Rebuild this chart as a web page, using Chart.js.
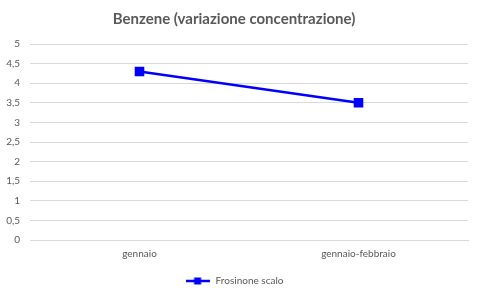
<!DOCTYPE html>
<html>
<head>
<meta charset="utf-8">
<script src="https://cdn.jsdelivr.net/npm/chart.js@4"></script>
<style>
  html, body { margin: 0; padding: 0; background: #fff; }
  #wrap { width: 480px; height: 296px; }
</style>
</head>
<body>
<div id="wrap"><canvas id="benzeneChart"></canvas></div>
<script>
// Data
const categories = ['gennaio', 'gennaio-febbraio'];
const seriesName = 'Frosinone scalo';
const seriesValues = [4.3, 3.5];
const yTicks = [0, 0.5, 1, 1.5, 2, 2.5, 3, 3.5, 4, 4.5, 5];

// legend swatch: line with a square marker in the middle
function legendSwatch() {
    const c = document.createElement('canvas');
    c.width = 24; c.height = 8;
    const g = c.getContext('2d');
    g.strokeStyle = '#0000ff';
    g.lineWidth = 2.5;
    g.beginPath(); g.moveTo(0, 4); g.lineTo(24, 4); g.stroke();
    g.fillStyle = '#0000ff';
    g.fillRect(8.5, 0.5, 7, 7);
    return c;
}

document.addEventListener('DOMContentLoaded', function() {
    const ctx = document.getElementById('benzeneChart');
    const swatch = legendSwatch();
    const fam = 'Lato, "Open Sans", sans-serif';

    new Chart(ctx, {
        type: 'line',
        data: {
            labels: categories,
            datasets: [{
                label: seriesName,
                data: seriesValues,
                borderColor: '#0000ff',
                backgroundColor: '#0000ff',
                borderWidth: 2.5,
                pointStyle: 'rect',
                pointRadius: 5,
                pointHoverRadius: 5,
                tension: 0
            }]
        },
        options: {
            responsive: true,
            maintainAspectRatio: false,
            animation: false,
            layout: { padding: { left: 0, right: 12, top: 4, bottom: 0 } },
            plugins: {
                title: {
                    display: true,
                    text: 'Benzene (variazione concentrazione)',
                    color: '#595959',
                    font: { size: 15, weight: 'bold', family: fam },
                    padding: { top: 6, bottom: 16 }
                },
                legend: {
                    position: 'bottom',
                    labels: {
                        color: '#595959',
                        font: { size: 10, family: fam },
                        usePointStyle: true,
                        pointStyleWidth: 26,
                        boxHeight: 8,
                        padding: 8,
                        generateLabels: function(chart) {
                            return [{
                                text: seriesName,
                                pointStyle: swatch,
                                fillStyle: '#0000ff',
                                strokeStyle: '#0000ff',
                                lineWidth: 0,
                                datasetIndex: 0,
                                fontColor: '#595959'
                            }];
                        }
                    }
                },
                tooltip: { enabled: false }
            },
            scales: {
                x: {
                    offset: true,
                    grid: { display: false, drawTicks: false },
                    border: { display: true, color: '#d9d9d9' },
                    ticks: {
                        color: '#595959',
                        font: { size: 10, family: fam },
                        padding: 8,
                        maxRotation: 0
                    }
                },
                y: {
                    min: 0,
                    max: 5,
                    afterBuildTicks: function(axis) {
                        axis.ticks = yTicks.map(v => ({ value: v }));
                    },
                    afterFit: function(axis) { axis.width = 30; },
                    grid: { color: '#d9d9d9', drawTicks: false },
                    border: { display: false },
                    ticks: {
                        color: '#595959',
                        font: { size: 10, family: fam },
                        padding: 10,
                        callback: function(v) { return String(v).replace('.', ','); }
                    }
                }
            }
        }
    });
});
</script>
</body>
</html>
